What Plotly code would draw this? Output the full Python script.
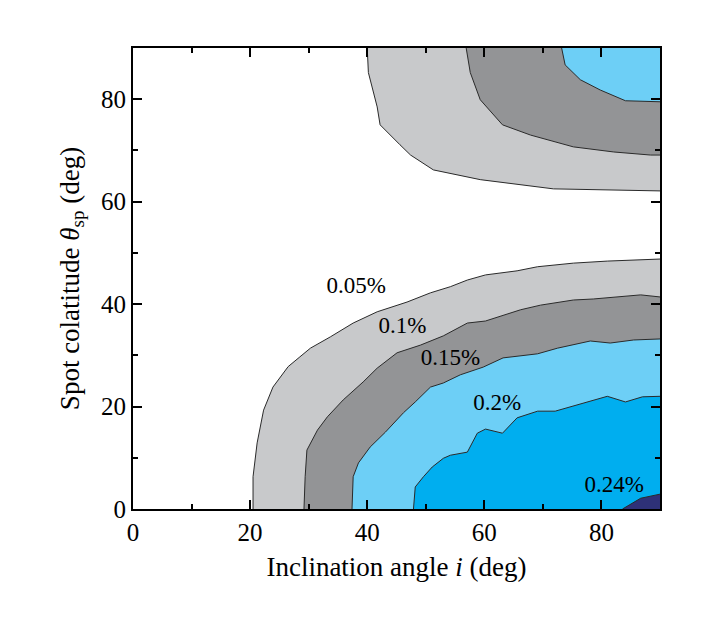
import plotly.graph_objects as go

# contour boundaries (inclination i, spot colatitude)
# lower lobe
c005_lo_x = [20.5, 20.5, 21.2, 22.3, 23.9, 26.5, 28.5, 30.3, 33.7, 37.6, 41.7, 46.8, 50.8, 54.2, 57.1, 60.2, 65.6, 69.1, 75.2, 81.0, 90.0]
c005_lo_y = [0.0, 6.3, 12.9, 19.3, 23.8, 27.8, 29.7, 31.4, 33.6, 36.3, 38.5, 40.4, 42.2, 43.4, 44.7, 45.7, 46.5, 47.3, 48.0, 48.4, 48.8]

c010_lo_x = [29.2, 29.4, 29.7, 31.5, 33.2, 35.9, 39.3, 41.7, 45.1, 49.1, 53.0, 57.1, 60.2, 66.2, 69.6, 75.2, 78.6, 86.7, 90.0]
c010_lo_y = [0.0, 6.3, 11.5, 15.4, 18.0, 21.3, 24.8, 27.5, 30.5, 32.0, 33.8, 36.3, 36.7, 38.9, 39.8, 40.8, 41.0, 41.8, 41.4]

c015_lo_x = [37.4, 37.6, 38.5, 40.5, 43.1, 46.2, 48.2, 50.8, 53.0, 55.9, 59.8, 63.2, 69.1, 72.5, 78.1, 81.5, 85.5, 90.0]
c015_lo_y = [0.0, 6.3, 9.0, 12.1, 15.0, 18.8, 20.9, 23.8, 24.6, 26.2, 27.7, 29.5, 30.3, 31.4, 32.8, 32.4, 33.0, 33.2]

c020_lo_x = [47.9, 48.2, 49.6, 51.1, 53.0, 54.2, 57.1, 58.8, 60.2, 63.1, 65.6, 69.1, 72.1, 77.6, 81.0, 84.1, 87.0, 90.0]
c020_lo_y = [0.0, 4.3, 6.3, 8.2, 9.9, 10.5, 11.1, 14.8, 15.6, 14.8, 17.8, 19.1, 19.1, 20.9, 22.0, 20.9, 21.9, 22.0]

c024_lo_x = [83.6, 86.7, 90.0]
c024_lo_y = [0.0, 2.1, 2.9]

# upper lobe
c005_up_x = [40.0, 40.2, 41.7, 42.2, 45.6, 47.4, 51.3, 59.3, 71.8, 90.0]
c005_up_y = [90.0, 85.2, 78.5, 75.0, 71.1, 69.1, 66.2, 64.3, 62.5, 62.1]

c010_up_x = [56.9, 57.6, 59.3, 63.1, 67.9, 75.2, 82.1, 88.4, 90.0]
c010_up_y = [90.0, 85.2, 79.9, 75.0, 73.0, 70.7, 69.7, 69.1, 69.1]

c015_up_x = [73.2, 73.8, 76.4, 79.8, 84.1, 90.0]
c015_up_y = [90.0, 86.7, 83.8, 81.8, 79.7, 79.5]

level_colors = {
    "0.05": "#C8C9CB",
    "0.10": "#939496",
    "0.15": "#6DCFF6",
    "0.20": "#00AEEF",
    "0.24": "#2E3178",
}

labels_text = ["0.05%", "0.1%", "0.15%", "0.2%", "0.24%"]
labels_x = [38.1, 46.0, 54.2, 62.2, 82.2]
labels_y = [43.2, 35.5, 29.3, 20.5, 4.5]

SERIF = "Liberation Serif"

fig = go.Figure()


def band(xs, ys, corner, color):
    # fill from the contour line to the plot corner
    px = list(xs) + [c[0] for c in corner]
    py = list(ys) + [c[1] for c in corner]
    fig.add_trace(go.Scatter(x=px, y=py, fill="toself", fillcolor=color,
                             mode="lines", line=dict(width=0),
                             hoverinfo="skip", showlegend=False))


def edge(xs, ys):
    fig.add_trace(go.Scatter(x=xs, y=ys, mode="lines",
                             line=dict(color="#2a2a2a", width=1),
                             hoverinfo="skip", showlegend=False))


lower = [(c005_lo_x, c005_lo_y, "0.05"), (c010_lo_x, c010_lo_y, "0.10"),
         (c015_lo_x, c015_lo_y, "0.15"), (c020_lo_x, c020_lo_y, "0.20"),
         (c024_lo_x, c024_lo_y, "0.24")]
for xs, ys, lv in lower:
    band(xs, ys, [(90, 0)], level_colors[lv])

upper = [(c005_up_x, c005_up_y, "0.05"), (c010_up_x, c010_up_y, "0.10"),
         (c015_up_x, c015_up_y, "0.15")]
for xs, ys, lv in upper:
    band(xs, ys, [(90, 90)], level_colors[lv])

for xs, ys, lv in lower + upper:
    edge(xs, ys)

fig.add_trace(go.Scatter(x=labels_x, y=labels_y, mode="text", text=labels_text,
                         textfont=dict(family=SERIF, size=23, color="black"),
                         hoverinfo="skip", showlegend=False))

axis_common = dict(
    range=[0, 90], dtick=20, tick0=0,
    ticks="inside", ticklen=9, tickwidth=1.5, tickcolor="black",
    minor=dict(dtick=10, ticks="inside", ticklen=5, tickwidth=1.5, tickcolor="black"),
    showline=True, linecolor="black", linewidth=2, mirror="allticks",
    showgrid=False, zeroline=False,
    tickfont=dict(family=SERIF, size=25, color="black"),
)

fig.update_xaxes(**axis_common,
                 title=dict(text="Inclination angle <i>i</i> (deg)", standoff=12,
                            font=dict(family=SERIF, size=27, color="black")))
fig.update_yaxes(**axis_common,
                 title=dict(text="Spot colatitude <i>θ</i><sub>sp</sub> (deg)", standoff=14,
                            font=dict(family=SERIF, size=27, color="black")))

# page body adds ~8px offset, so margins are shifted to land the axes where they are
fig.update_layout(
    width=706, height=636,
    margin=dict(l=125, r=54, t=40, b=135),
    plot_bgcolor="white", paper_bgcolor="white",
)

fig.write_html("out.html")
